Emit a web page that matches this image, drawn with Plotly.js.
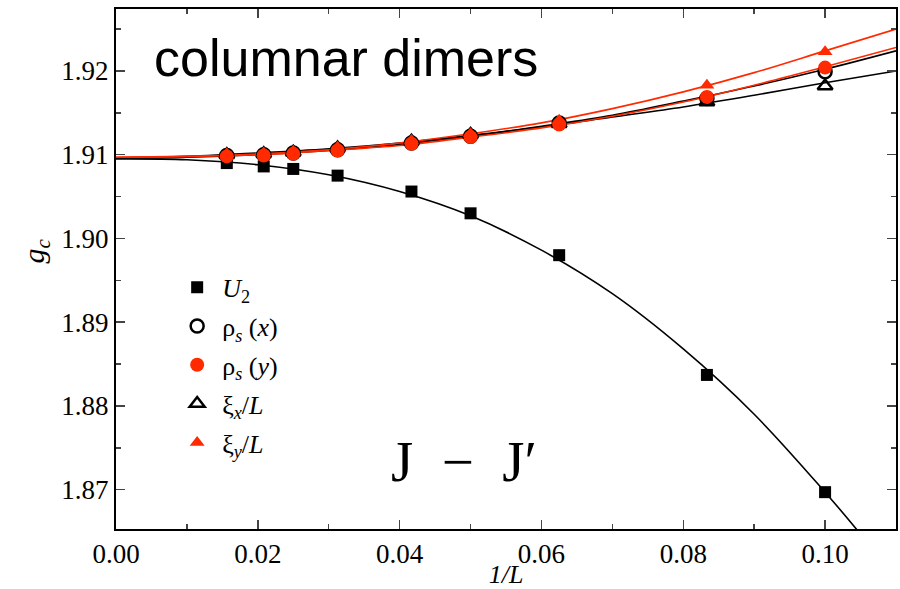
<!DOCTYPE html>
<html>
<head>
<meta charset="utf-8">
<script src="https://cdn.plot.ly/plotly-3.0.1.min.js"></script>
<style>html,body{margin:0;padding:0;background:#fff;}#chart{width:900px;height:589px;}</style>
</head>
<body>
<div id="chart"></div>
<script>
// 1/L for L = 64, 48, 40, 32, 24, 20, 16, 12, 10
const invL = [0.015625, 0.0208333, 0.025, 0.03125, 0.0416667, 0.05, 0.0625, 0.0833333, 0.1];

const U2     = [1.9090, 1.9086, 1.9083, 1.9075, 1.9056, 1.9030, 1.8980, 1.8837, 1.8697];
const rhoX   = [1.9099, 1.9100, 1.9102, 1.9106, 1.9114, 1.9122, 1.9138, 1.9167, 1.9199];
const rhoY   = [1.9098, 1.9099, 1.9101, 1.9105, 1.9113, 1.9121, 1.9136, 1.9169, 1.9204];
const xiX    = [1.9100, 1.9101, 1.9103, 1.9108, 1.9116, 1.9124, 1.9137, 1.9163, 1.9182];
const xiY    = [1.9101, 1.9102, 1.9104, 1.9109, 1.9117, 1.9125, 1.9141, 1.9183, 1.9223];

// fit curves
const fitX    = [0, 0.01, 0.02, 0.03, 0.04, 0.05, 0.06, 0.07, 0.08, 0.09, 0.10, 0.11];
const fitU2X  = [0, 0.01, 0.02, 0.03, 0.04, 0.05, 0.06, 0.07, 0.08, 0.09, 0.10, 0.1045];
const fitU2   = [1.9095, 1.9094, 1.9088, 1.9076, 1.9056, 1.9027, 1.8986, 1.8934, 1.8868, 1.8790, 1.8697, 1.8652];
const fitRhoX = [1.9096, 1.9097, 1.9100, 1.9105, 1.9112, 1.9122, 1.9134, 1.9147, 1.9164, 1.9182, 1.9202, 1.9224];
const fitRhoY = [1.9097, 1.9098, 1.9100, 1.9105, 1.9111, 1.9121, 1.9132, 1.9146, 1.9163, 1.9183, 1.9205, 1.9228];
const fitXiX  = [1.9096, 1.9098, 1.9102, 1.9107, 1.9114, 1.9123, 1.9133, 1.9145, 1.9157, 1.9171, 1.9186, 1.9200];
const fitXiY  = [1.9097, 1.9098, 1.9101, 1.9106, 1.9114, 1.9125, 1.9138, 1.9155, 1.9175, 1.9198, 1.9224, 1.9250];

const labels = ['<i>U</i><sub>2</sub>', 'ρ<sub><i>s</i></sub> (<i>x</i>)', 'ρ<sub><i>s</i></sub> (<i>y</i>)',
                'ξ<sub><i>x</i></sub>/<i>L</i>', 'ξ<sub><i>y</i></sub>/<i>L</i>'];

const RED = '#ff2a00';
const serif = 'Liberation Serif';

function fit(x, y, color) {
  return {x: x, y: y, mode: 'lines', line: {color: color, width: 1.6, shape: 'spline', smoothing: 1},
          showlegend: false, hoverinfo: 'skip'};
}
function pts(y, name, symbol, color, size, rank, lw) {
  return {x: invL, y: y, mode: 'markers', name: name, legendrank: rank, legendgroup: 'g' + rank,
          marker: {symbol: symbol, color: color, size: size, line: {color: color, width: lw}}};
}

const traces = [
  fit(fitU2X, fitU2, '#000'),
  fit(fitX, fitXiX, '#000'),
  fit(fitX, fitRhoX, '#000'),
  fit(fitX, fitXiY, RED),
  fit(fitX, fitRhoY, RED),
  pts(U2, labels[0], 'square', '#000', 12, 1, 0),
  pts(xiX, labels[3], 'triangle-up-open', '#000', 13, 4, 2.5),
  pts(rhoX, labels[1], 'circle-open', '#000', 13, 2, 2.5),
  pts(xiY, labels[4], 'triangle-up', RED, 13, 5, 0),
  pts(rhoY, labels[2], 'circle', RED, 14, 3, 0)
];

const layout = {
  width: 900, height: 589,
  margin: {l: 116, r: 4, t: 9, b: 60},
  paper_bgcolor: '#fff', plot_bgcolor: '#fff',
  font: {family: serif, color: '#000', size: 24},
  showlegend: true,
  legend: {x: 0.072, y: 0.51, xanchor: 'left', yanchor: 'top', bgcolor: 'rgba(0,0,0,0)',
           font: {family: serif, size: 26, color: '#000'}, traceorder: 'grouped', tracegroupgap: 2, itemwidth: 40},
  xaxis: {range: [0, 0.11], dtick: 0.02, tick0: 0, tickformat: '.2f', ticks: 'inside', ticklen: 9, tickwidth: 1.5,
          showline: true, linewidth: 2, linecolor: '#000', mirror: 'ticks', showgrid: false, zeroline: false,
          minor: {dtick: 0.01, ticks: 'inside', ticklen: 5, tickwidth: 1.5, showgrid: false},
          tickfont: {family: serif, size: 27, color: '#000'},
          title: {text: '<i>1/L</i>', font: {family: serif, size: 26, color: '#000'}, standoff: 0}},
  yaxis: {range: [1.8653, 1.9274], dtick: 0.01, tick0: 1.87, tickformat: '.2f', ticks: 'inside', ticklen: 9, tickwidth: 1.5,
          showline: true, linewidth: 2, linecolor: '#000', mirror: 'ticks', showgrid: false, zeroline: false,
          minor: {dtick: 0.005, ticks: 'inside', ticklen: 5, tickwidth: 1.5, showgrid: false},
          tickfont: {family: serif, size: 27, color: '#000'},
          title: {text: ''}},
  annotations: [
    {xref: 'paper', yref: 'paper', x: -0.103, y: 0.535, xanchor: 'center', yanchor: 'middle', showarrow: false,
     textangle: -90, text: '<i>g</i><sub><i>c</i></sub>', font: {family: serif, size: 30, color: '#000'}},
    {xref: 'paper', yref: 'paper', x: 0.295, y: 0.905, xanchor: 'center', yanchor: 'middle', showarrow: false,
     text: 'columnar dimers', font: {family: 'Liberation Sans', size: 52, color: '#000'}},
    {xref: 'paper', yref: 'paper', x: 0.446, y: 0.13, xanchor: 'center', yanchor: 'middle', showarrow: false,
     text: 'J\u2002\u2212\u2002J\u2032', font: {family: serif, size: 57, color: '#000'}}
  ]
};

Plotly.newPlot('chart', traces, layout, {displayModeBar: false, staticPlot: true});
</script>
</body>
</html>
